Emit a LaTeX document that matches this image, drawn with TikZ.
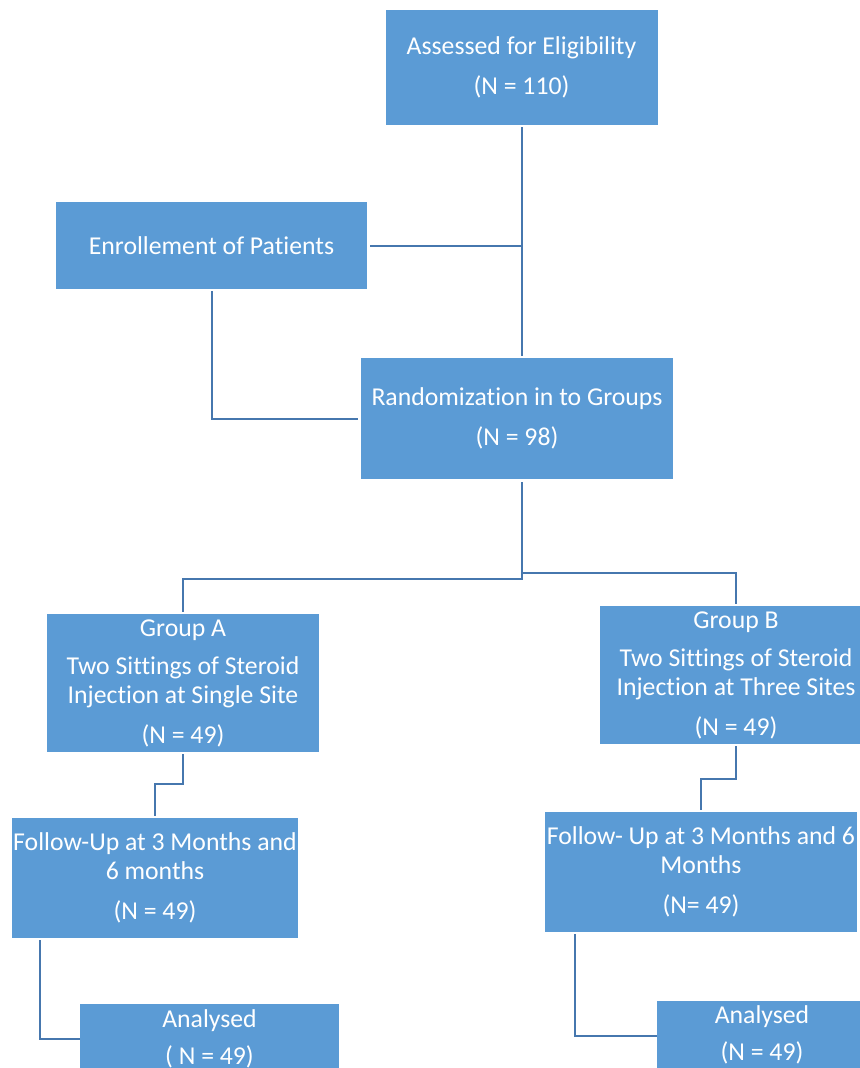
\documentclass[tikz,border=0pt]{standalone}
\usepackage{fontspec}
\setmainfont{Carlito}[Ligatures={NoCommon}]
\usetikzlibrary{calc}
\definecolor{boxfill}{HTML}{5B9BD5}
\definecolor{linecol}{HTML}{4677AE}
\begin{document}
\begin{tikzpicture}[x=0.75pt,y=-0.75pt,
  box/.style={fill=boxfill,draw=none,text=white,align=center,inner sep=0pt,
    font=\fontsize{19.3}{21.75}\selectfont},
  conn/.style={draw=linecol,line width=1.5pt}]
\useasboundingbox (0,0) rectangle (860,1068);
\begin{scope}
\clip (0,0) rectangle (860,1068);
\node[box,minimum width=272*0.75pt,minimum height=115*0.75pt] (assess) at (521.5,67.5)
  {Assessed for Eligibility\\[8.25pt](N = 110)};
\node[box,minimum width=311*0.75pt,minimum height=87*0.75pt] (enrol) at (211.5,245.5)
  {Enrollement of Patients};
\node[box,minimum width=312*0.75pt,minimum height=121*0.75pt] (rand) at (517,418.5)
  {Randomization in to Groups\\[8.25pt](N = 98)};
\node[box,minimum width=272*0.75pt,minimum height=138*0.75pt] (grpA) at (183,683)
  {Group A\\[6.75pt]Two Sittings of Steroid\\Injection at Single Site\\[8.25pt](N = 49)};
\node[box,minimum width=272*0.75pt,minimum height=138*0.75pt] (grpB) at (736,675)
  {Group B\\[6.75pt]Two Sittings of Steroid\\Injection at Three Sites\\[8.25pt](N = 49)};
\node[box,minimum width=286*0.75pt,minimum height=120*0.75pt] (folA) at (155,878)
  {Follow-Up at 3 Months and\\6 months\\[8.25pt](N = 49)};
\node[box,minimum width=312*0.75pt,minimum height=120*0.75pt] (folB) at (701,872)
  {Follow- Up at 3 Months and 6\\Months\\[8.25pt](N= 49)};
\node[box,minimum width=259*0.75pt,minimum height=69*0.75pt] (anaA) at (209.5,1038.5)
  {Analysed\\[6pt]( N = 49)};
\node[box,minimum width=210*0.75pt,minimum height=67*0.75pt] (anaB) at (762,1034.5)
  {Analysed\\[6pt](N = 49)};
\end{scope}
% connectors
\coordinate (trunk) at (522,0);
\draw[conn] ($(assess.south -| trunk)+(0,2)$) -- ($(rand.north -| trunk)+(0,-2)$);
\draw[conn] ($(enrol.east)+(3,0)$) -- (enrol.east -| trunk);
\draw[conn] ($(enrol.south)+(0,2)$) |- ($(rand.west)+(-3,0)$);
\draw[conn] ($(rand.south -| trunk)+(0,3)$) -- (522,579) -| ($(grpA.north)+(0,-2)$);
\draw[conn] (522,573) -| ($(grpB.north)+(0,-2)$);
\draw[conn] ($(grpA.south)+(0,2)$) -- ++(0,30) -| ($(folA.north)+(0,-2)$);
\draw[conn] ($(grpB.south)+(0,2)$) -- ++(0,33) -| ($(folB.north)+(0,-2)$);
\draw[conn] ($(folA.south west)+(28,2)$) |- (anaA.west);
\draw[conn] ($(folB.south west)+(30,2)$) |- ($(anaB.west)+(0,1.5)$);
\end{tikzpicture}
\end{document}
